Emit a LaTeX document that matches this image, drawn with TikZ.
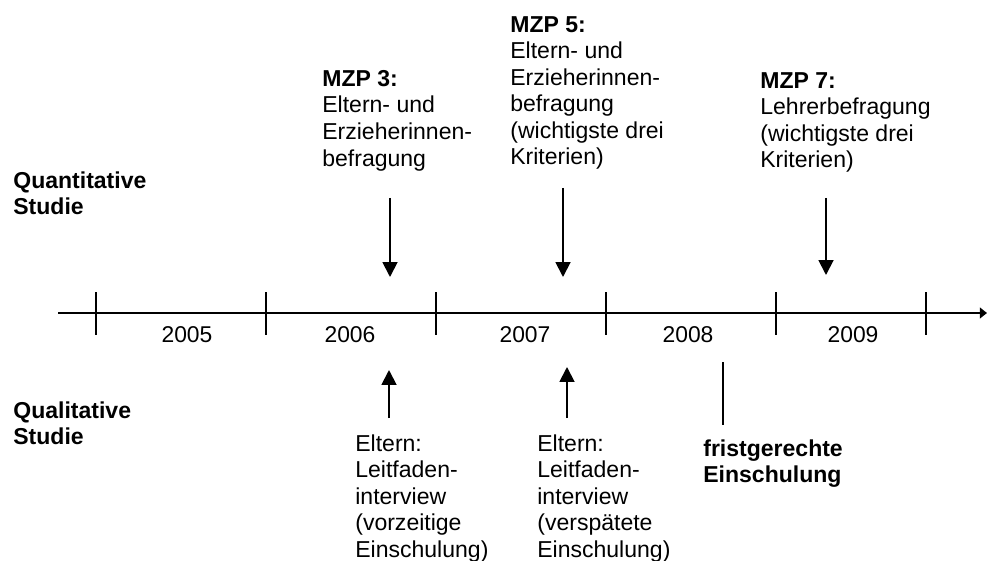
\documentclass[tikz,border=0pt]{standalone}
\usepackage{fontspec}
\setmainfont{Liberation Sans}
\usetikzlibrary{arrows.meta}

\begin{document}
\begin{tikzpicture}[x=0.2mm, y=-0.2mm,
      txt/.style={anchor=north west, inner sep=0pt, align=left,
        font=\fontsize{13.1}{15.1}\selectfont},
      fett/.style={txt, font=\fontsize{13.1}{15.1}\selectfont\bfseries},
      year/.style={inner sep=0pt, font=\fontsize{13}{15}\selectfont},
      pfeil/.style={-{Triangle[width=8.5pt,length=8.5pt]}, line width=1.1pt},
      tick/.style={line width=1.1pt},
      achse/.style={-{Triangle[width=6pt,length=4pt]}, line width=1.4pt}]
  \useasboundingbox (0,0) rectangle (987,561);
  % time axis
  \coordinate (t0) at (58,313);
  \coordinate (t1) at (987,313);
  \draw[achse] (t0) -- (t1);
  \foreach \x [count=\i] in {96,266,436,606,776,926} {
    \coordinate (o\i) at (\x,292);
    \coordinate (u\i) at (\x,335);
    \draw[tick] (o\i) -- (u\i);
  }
  \foreach \x/\j in {187/2005, 350/2006, 525/2007, 688/2008, 853/2009}
    \node[year] (y\j) at (\x,335) {\j};
  % labels
  \node[fett] (quant) at (13,171) {Quantitative\\Studie};
  \node[fett] (qual) at (13,401) {Qualitative\\Studie};
  % MZP 3, 5, 7
  \node[txt] (mzp3) at (322,70) {\textbf{MZP 3:}\\Eltern- und\\Erzieherinnen-\\befragung};
  \node[txt] (mzp5) at (510,16) {\textbf{MZP 5:}\\Eltern- und\\Erzieherinnen-\\befragung\\(wichtigste drei\\Kriterien)};
  \node[txt] (mzp7) at (760,72) {\textbf{MZP 7:}\\Lehrerbefragung\\(wichtigste drei\\Kriterien)};
  \coordinate (a3) at (390,198);  \coordinate (b3) at (390,277);
  \coordinate (a5) at (563,188);  \coordinate (b5) at (563,277);
  \coordinate (a7) at (826,198);  \coordinate (b7) at (826,275);
  \draw[pfeil] (a3) -- (b3);
  \draw[pfeil] (a5) -- (b5);
  \draw[pfeil] (a7) -- (b7);
  % interviews
  \node[txt] (int1) at (355,434) {Eltern:\\Leitfaden-\\interview\\(vorzeitige\\Einschulung)};
  \node[txt] (int2) at (537,434) {Eltern:\\Leitfaden-\\interview\\(versp\"atete\\Einschulung)};
  \coordinate (c1) at (389,418);  \coordinate (d1) at (389,370);
  \coordinate (c2) at (567,418);  \coordinate (d2) at (567,367);
  \draw[pfeil] (c1) -- (d1);
  \draw[pfeil] (c2) -- (d2);
  \node[fett] (frist) at (703,439) {fristgerechte\\Einschulung};
  \coordinate (f0) at (723,362);  \coordinate (f1) at (723,425);
  \draw[tick] (f0) -- (f1);
\end{tikzpicture}
\end{document}
